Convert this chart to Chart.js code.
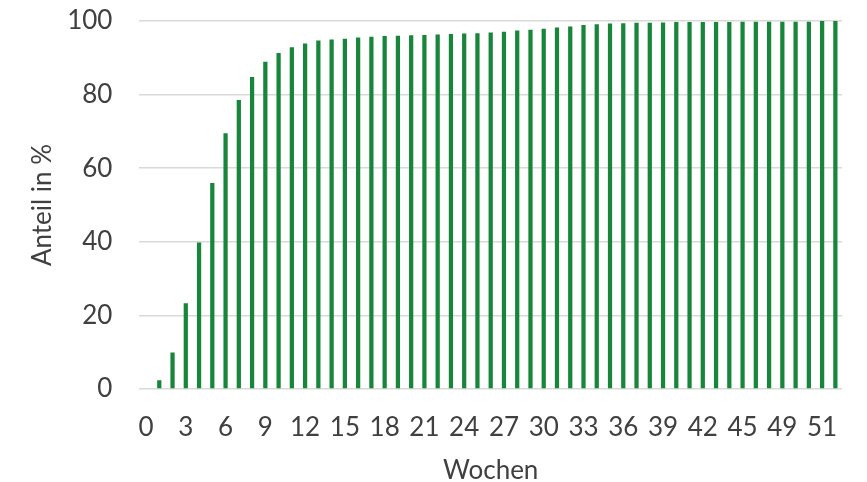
<!DOCTYPE html>
<html lang="de">
<head>
<meta charset="utf-8">
<title>Anteil in % nach Wochen</title>
<script src="https://cdn.jsdelivr.net/npm/chart.js@4/dist/chart.umd.min.js"></script>
<style>
  html, body { margin: 0; padding: 0; background: #ffffff; }
  #wrap { position: relative; width: 867px; height: 482px; }
</style>
</head>
<body>
<div id="wrap"><canvas id="chart" width="867" height="482"></canvas></div>
<script>
// Week labels on the category axis (every third one is printed)
const weeks = [
  '0','1','2','3','4','5','6','7','8','9','10','11','12','13','14','15','16','17',
  '18','19','20','21','22','23','24','25','26','27','28','29','30','31','32','33','34','35',
  '36','37','38','39','40','41','42','43','44','45','46','47','49','49','50','51','52'
];

// Cumulative share in percent per week
const shares = [
  0, 2.4, 9.9, 23.3, 39.8, 56.0, 69.5, 78.5, 84.8, 88.9, 91.3, 92.9, 93.9, 94.7, 95.0, 95.2, 95.5, 95.7,
  95.9, 96.0, 96.1, 96.2, 96.3, 96.5, 96.6, 96.7, 96.9, 97.1, 97.4, 97.6, 97.9, 98.2, 98.5, 98.9,
  99.1, 99.3, 99.4, 99.5, 99.5, 99.6, 99.7, 99.7, 99.7, 99.7, 99.7, 99.8, 99.8, 99.8, 99.8, 99.8,
  99.8, 100, 100
];

// Value axis ticks
const yTicks = [0, 20, 40, 60, 80, 100];

const textColor = '#404040';
const gridColor = '#d9d9d9';
const barColor = '#17863b';
const fontFamily = 'Lato, "Open Sans", sans-serif';

new Chart(document.getElementById('chart'), {
  type: 'bar',
  data: {
    labels: weeks,
    datasets: [{
      label: 'Anteil in %',
      data: shares,
      backgroundColor: barColor,
      borderWidth: 0,
      categoryPercentage: 1,
      barPercentage: 0.32
    }]
  },
  options: {
    responsive: false,
    animation: false,
    devicePixelRatio: 1,
    layout: { padding: { left: 27, right: 25, top: 21, bottom: 0 } },
    plugins: {
      legend: { display: false },
      tooltip: { enabled: false }
    },
    scales: {
      x: {
        grid: { display: false, drawTicks: false },
        border: { display: false },
        ticks: {
          autoSkip: false,
          maxRotation: 0,
          minRotation: 0,
          padding: 23,
          color: textColor,
          font: { family: fontFamily, size: 26 },
          callback: function (value, index) {
            return index % 3 === 0 ? weeks[index] : '';
          }
        },
        title: {
          display: true,
          text: 'Wochen',
          color: textColor,
          font: { family: fontFamily, size: 26, lineHeight: 0.9 },
          padding: { top: 0, bottom: 0 }
        },
        afterFit: function (scale) {
          scale.height = 93;
          scale.paddingLeft = 0;
          scale.paddingRight = 0;
        }
      },
      y: {
        min: 0,
        max: 100,
        afterBuildTicks: function (scale) {
          scale.ticks = yTicks.map(function (v) { return { value: v }; });
        },
        grid: { color: gridColor, lineWidth: 1.5, drawTicks: false },
        border: { display: false },
        ticks: {
          padding: 27,
          color: textColor,
          font: { family: fontFamily, size: 26 }
        },
        title: {
          display: true,
          text: 'Anteil in %',
          color: textColor,
          font: { family: fontFamily, size: 26 },
          padding: { top: 0, bottom: 0 }
        },
        afterFit: function (scale) {
          scale.width = 112.4;
          scale.paddingTop = 0;
          scale.paddingBottom = 0;
        }
      }
    }
  }
});
</script>
</body>
</html>
